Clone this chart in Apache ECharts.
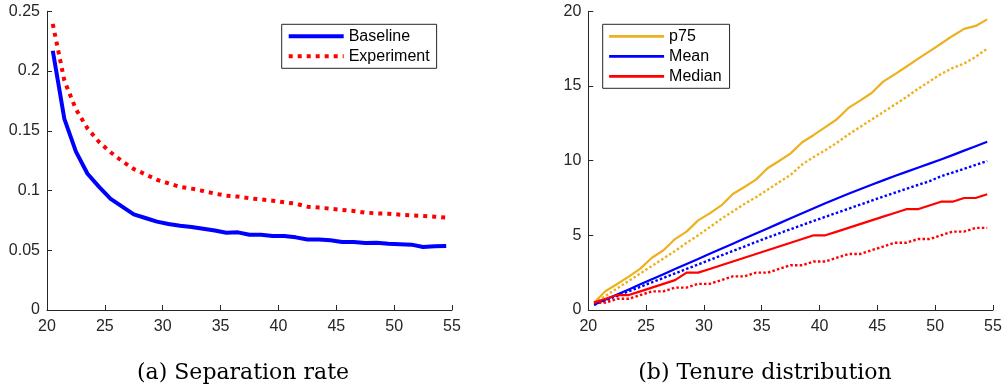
<!DOCTYPE html>
<html>
<head>
<meta charset="utf-8">
<script src="https://cdn.jsdelivr.net/npm/echarts@6/dist/echarts.min.js"></script>
<style>
html,body{margin:0;padding:0;background:#fff;}
#chart{width:1005px;height:392px;}
</style>
</head>
<body>
<div id="chart"></div>
<script>
// ---- data ----
const ages = [20.5,21.5,22.5,23.5,24.5,25.5,26.5,27.5,28.5,29.5,30.5,31.5,32.5,33.5,34.5,35.5,36.5,37.5,38.5,39.5,40.5,41.5,42.5,43.5,44.5,45.5,46.5,47.5,48.5,49.5,50.5,51.5,52.5,53.5,54.5];

// (a) Separation rate
const sepBaseline = [0.217,0.160,0.1325,0.114,0.103,0.093,0.0865,0.080,0.077,0.074,0.072,0.0705,0.0695,0.068,0.0665,0.0647,0.065,0.063,0.063,0.062,0.062,0.0608,0.059,0.059,0.0583,0.057,0.057,0.056,0.0563,0.0555,0.055,0.0547,0.0527,0.0533,0.0536];
const sepExperiment = [0.2394,0.192,0.168,0.152,0.1406,0.132,0.1245,0.118,0.1136,0.109,0.106,0.103,0.1016,0.0996,0.0974,0.0957,0.0949,0.0935,0.0926,0.0915,0.0901,0.089,0.0865,0.0857,0.0848,0.0837,0.0829,0.0815,0.0809,0.0806,0.0798,0.0792,0.0787,0.0781,0.0773];

// (b) Tenure distribution — solid = baseline, dotted = experiment
const p75Base = [0.5,1.27,1.74,2.23,2.77,3.5,4.0,4.75,5.25,6.0,6.47,7.0,7.77,8.24,8.73,9.49,9.98,10.49,11.23,11.72,12.25,12.77,13.53,14.02,14.53,15.29,15.78,16.29,16.81,17.32,17.83,18.35,18.82,19.02,19.46];
const p75Exp = [0.45,0.95,1.45,1.95,2.45,2.95,3.45,3.95,4.5,5.0,5.55,6.1,6.6,7.1,7.55,8.05,8.55,9.05,9.75,10.25,10.7,11.2,11.75,12.25,12.75,13.25,13.75,14.25,14.8,15.3,15.8,16.2,16.5,16.95,17.5];
const meanBase = [0.35,0.70,1.04,1.38,1.72,2.06,2.40,2.74,3.08,3.42,3.76,4.10,4.44,4.78,5.12,5.46,5.80,6.14,6.48,6.82,7.15,7.47,7.78,8.09,8.39,8.68,8.97,9.25,9.53,9.80,10.08,10.37,10.67,10.97,11.27];
const meanExp = [0.35,0.65,0.95,1.25,1.55,1.85,2.15,2.45,2.75,3.05,3.35,3.65,3.95,4.25,4.55,4.85,5.13,5.41,5.69,5.97,6.24,6.51,6.78,7.05,7.32,7.59,7.85,8.11,8.37,8.62,8.95,9.2,9.46,9.72,9.98];
const medianBase = [0.5,0.75,1.0,1.0,1.25,1.5,1.75,2.0,2.5,2.5,2.75,3.0,3.25,3.5,3.75,4.0,4.25,4.5,4.75,5.0,5.0,5.25,5.5,5.75,6.0,6.25,6.5,6.75,6.75,7.0,7.25,7.25,7.5,7.5,7.75];
const medianExp = [0.5,0.5,0.75,0.75,1.0,1.25,1.25,1.5,1.5,1.75,1.75,2.0,2.25,2.25,2.5,2.5,2.75,3.0,3.0,3.25,3.25,3.5,3.75,3.75,4.0,4.25,4.5,4.5,4.75,4.75,5.0,5.25,5.25,5.5,5.5];

const leftYTicks = {min:0, max:0.25, interval:0.05};
const rightYTicks = {min:0, max:20, interval:5};
const xTicks = {min:20, max:55, interval:5};

const captions = ['(a) Separation rate', '(b) Tenure distribution'];

// ---- styling ----
const AX = '#262626';
const BLUE = '#0000ff', RED = '#ff0000', ORANGE = '#edb120';
const tickFont = {color: AX, fontSize: 16, fontFamily: 'Liberation Sans, Arial, sans-serif'};

function pairs(ys){ return ages.map((x,i)=>[x, ys[i]]); }

function xAxis(gi){
  return {
    type:'value', gridIndex:gi, min:xTicks.min, max:xTicks.max, interval:xTicks.interval,
    axisLine:{show:true, onZero:false, lineStyle:{color:AX, width:1}},
    axisTick:{show:true, inside:true, length:5, lineStyle:{color:AX}},
    axisLabel:Object.assign({margin:9}, tickFont),
    splitLine:{show:false}
  };
}
function yAxis(gi, t, fmt){
  return {
    type:'value', gridIndex:gi, min:t.min, max:t.max, interval:t.interval,
    axisLine:{show:true, onZero:false, lineStyle:{color:AX, width:1}},
    axisTick:{show:true, inside:true, length:5, lineStyle:{color:AX}},
    axisLabel:Object.assign({margin:7, formatter:fmt}, tickFont),
    splitLine:{show:false}
  };
}
function line(name, gi, ys, color, width, dash, z){
  return {
    name:name, type:'line', xAxisIndex:gi, yAxisIndex:gi, data:pairs(ys),
    showSymbol:false, symbol:'none', symbolSize:0, animation:false, z:z||2,
    lineStyle:{color:color, width:width, type:dash||'solid', cap:'butt', join:'round'},
    itemStyle:{color:color}
  };
}
const legendText = {color:'#000', fontSize:16, lineHeight:16, fontFamily:'Liberation Sans, Arial, sans-serif'};
function legItem(name, color, width, dash){
  return {name:name, itemStyle:{opacity:0}, lineStyle:{color:color, width:width, type:dash||'solid', opacity:1}};
}

const chart = echarts.init(document.getElementById('chart'), null, {renderer:'canvas'});
chart.setOption({
  backgroundColor:'#ffffff',
  animation:false,
  grid:[
    {left:47, top:11.3, width:405, height:298.7, containLabel:false},
    {left:588.3, top:11.3, width:404.7, height:298.7, containLabel:false}
  ],
  xAxis:[xAxis(0), xAxis(1)],
  yAxis:[
    yAxis(0, leftYTicks, v=>String(Math.round(v*100)/100)),
    yAxis(1, rightYTicks, v=>String(v))
  ],
  legend:[
    {
      data:[legItem('Baseline', BLUE, 4), legItem('Experiment', RED, 4, [4,5])],
      orient:'vertical', left:281.7, top:24.3,
      itemWidth:55, itemHeight:10, itemGap:4, padding:[4,7,4,5],
      borderColor:AX, borderWidth:1, backgroundColor:'#fff',
      itemStyle:{opacity:0},
      textStyle:legendText, selectedMode:false
    },
    {
      data:[legItem('p75', ORANGE, 2.8), legItem('Mean', BLUE, 2.8), legItem('Median', RED, 2.8)],
      orient:'vertical', left:602.7, top:24.3,
      itemWidth:55, itemHeight:10, itemGap:4, padding:[4,8,4,5],
      borderColor:AX, borderWidth:1, backgroundColor:'#fff',
      itemStyle:{opacity:0},
      textStyle:legendText, selectedMode:false
    }
  ],
  series:[
    line('Baseline', 0, sepBaseline, BLUE, 4, 'solid', 2),
    line('Experiment', 0, sepExperiment, RED, 4, [4,5], 3),
    line('p75', 1, p75Base, ORANGE, 2.2, 'solid'),
    line('p75 experiment', 1, p75Exp, ORANGE, 2.4, [2.5,2.2]),
    line('Mean', 1, meanBase, BLUE, 2.2, 'solid'),
    line('Mean experiment', 1, meanExp, BLUE, 2.4, [2.5,2.2]),
    line('Median', 1, medianBase, RED, 2.2, 'solid'),
    line('Median experiment', 1, medianExp, RED, 2.4, [2.5,2.2])
  ],
  graphic:[
    {type:'text', x:243, y:373, style:{text:captions[0], textAlign:'center', textVerticalAlign:'middle', fill:'#000', fontSize:22, fontFamily:'DejaVu Serif, Liberation Serif, serif'}},
    {type:'text', x:765, y:373, style:{text:captions[1], textAlign:'center', textVerticalAlign:'middle', fill:'#000', fontSize:22, fontFamily:'DejaVu Serif, Liberation Serif, serif'}}
  ]
});
</script>
</body>
</html>
